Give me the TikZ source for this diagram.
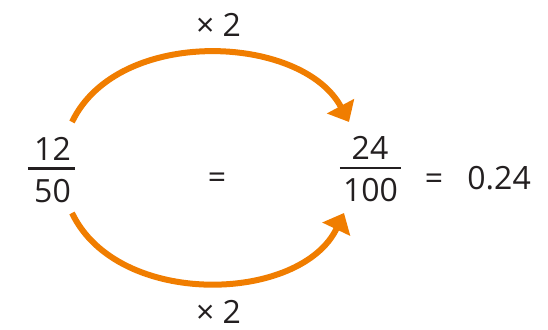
\documentclass[tikz,border=0pt]{standalone}
\usepackage{fontspec}
\setmainfont{Open Sans}
\usetikzlibrary{arrows.meta}
\definecolor{arcorange}{RGB}{240,125,0}
\definecolor{ink}{RGB}{35,31,32}
\begin{document}
\begin{tikzpicture}[x=0.5pt,y=-0.5pt,
  txt/.style={inner sep=0pt,anchor=base,text=ink,font=\fontsize{16}{18}\selectfont},
  eqsign/.style={inner sep=0pt,anchor=center,text=ink,font=\fontsize{16}{18}\selectfont},
  fracbar/.style={draw=ink,line width=1.3pt},
  curvearrow/.style={draw=arcorange,line width=3pt,-{Triangle[length=9pt,width=15pt]}}]
\useasboundingbox (0,0) rectangle (548,330);
% left fraction
\node[txt] (n1) at (52.5,161) {12};
\node[txt] (d1) at (52.5,203) {50};
\coordinate (b1l) at (28,168.5);
\coordinate (b1r) at (75,168.5);
\draw[fracbar] (b1l) -- (b1r);
% right fraction
\node[txt] (n2) at (370,160) {24};
\node[txt] (d2) at (370.5,202) {100};
\coordinate (b2l) at (340,168);
\coordinate (b2r) at (401,168);
\draw[fracbar] (b2l) -- (b2r);
% equals signs and result
\node[eqsign] (eq1) at (217,180.5) {=};
\node[eqsign] (eq2) at (434,182) {=};
\node[txt,anchor=base west] (res) at (467,190) {0.24};
% labels
\node[txt] (top) at (218.5,37) {× 2};
\node[txt] (bot) at (218.5,324) {× 2};
% arcs
\coordinate (s1) at (72,122);
\coordinate (e1) at (349,122);
\coordinate (s2) at (72,213);
\coordinate (e2) at (344,213);
\draw[curvearrow] (s1) .. controls (118,26) and (302,34) .. (e1);
\draw[curvearrow] (s2) .. controls (118,309) and (301,303) .. (e2);
\end{tikzpicture}
\end{document}
